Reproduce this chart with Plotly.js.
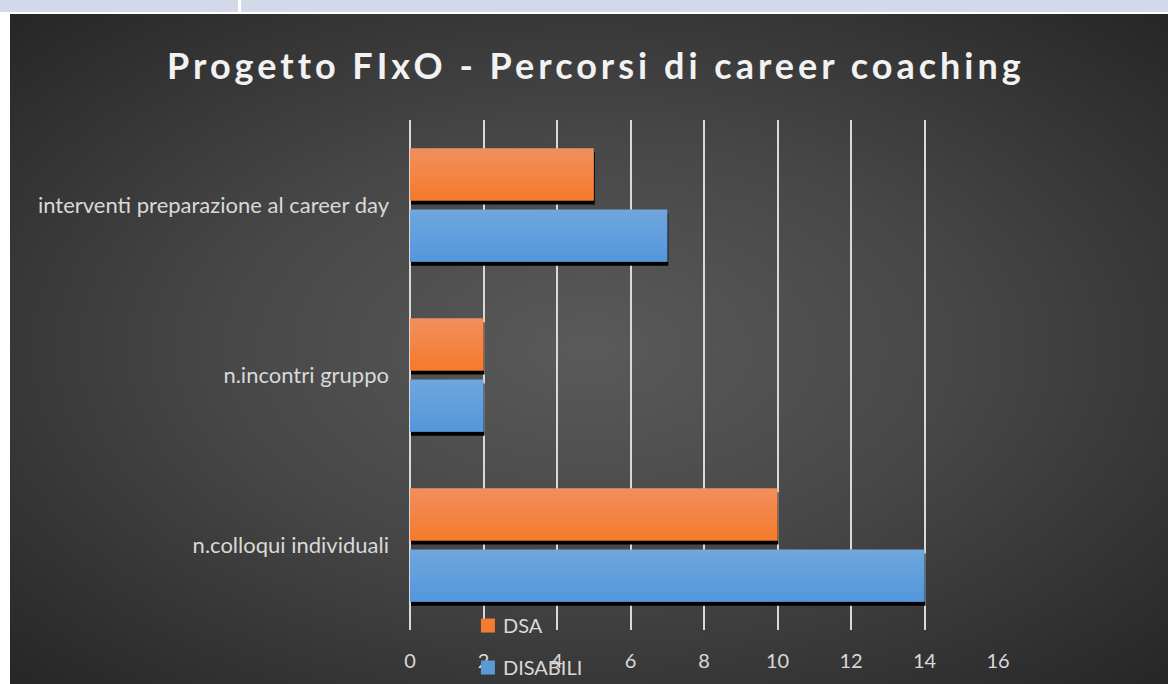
<!DOCTYPE html>
<html>
<head>
<meta charset="utf-8">
<script src="https://cdn.plot.ly/plotly-3.0.1.min.js"></script>
<style>
  html, body { margin:0; padding:0; width:1168px; height:684px; overflow:hidden; background:#ffffff; }
  #strip1 { position:absolute; left:0; top:0; width:238px; height:12px; background:#d3d9e8; }
  #strip2 { position:absolute; left:241px; top:0; width:927px; height:12px; background:#d3d9e8; }
  #chart { position:absolute; left:10px; top:14px; width:1158px; height:670px;
    background: radial-gradient(ellipse farthest-corner at 50% 50%, #5a5a5a 0%, #474747 45%, #262626 100%); }
  #chart .gtitle { letter-spacing: 4px; }
</style>
</head>
<body>
<div id="strip1"></div>
<div id="strip2"></div>
<div id="chart"></div>
<script>
const categories = ["n.colloqui individuali", "n.incontri gruppo", "interventi preparazione al career day"];
const disabili = [14, 2, 7];
const dsa = [10, 2, 5];
const xTicks = [0, 2, 4, 6, 8, 10, 12, 14, 16];

const font = "Lato, 'Open Sans', 'Noto Sans', sans-serif";

const traces = [
  { type: "bar", orientation: "h", name: "DISABILI", y: categories, x: disabili,
    marker: { color: "#5b9bd5", line: { width: 0 } }, legendrank: 2, legendgroup: "g2", hoverinfo: "x" },
  { type: "bar", orientation: "h", name: "DSA", y: categories, x: dsa,
    marker: { color: "#f47c30", line: { width: 0 } }, legendrank: 1, legendgroup: "g1", hoverinfo: "x" }
];

const layout = {
  width: 1158, height: 670,
  paper_bgcolor: "rgba(0,0,0,0)",
  plot_bgcolor: "rgba(0,0,0,0)",
  margin: { l: 400, r: 170, t: 106, b: 54, autoexpand: false },
  barmode: "group",
  bargap: 0.28,
  bargroupgap: 0.148,
  title: { text: "Progetto FIxO - Percorsi di career coaching",
    font: { family: font, size: 36, color: "#f2f2f2", weight: 700 },
    x: 0.506, xanchor: "center", y: 0.922, yanchor: "middle" },
  xaxis: { range: [0, 16], tickvals: xTicks, ticktext: xTicks.map(String),
    showgrid: true, gridcolor: "#d9d9d9", gridwidth: 2,
    zeroline: true, zerolinecolor: "#d9d9d9", zerolinewidth: 2,
    showline: false, ticks: "", ticklabelstandoff: 17,
    tickfont: { family: font, size: 20, color: "#d9d9d9" }, fixedrange: true },
  yaxis: { type: "category", categoryorder: "array", categoryarray: categories,
    showgrid: false, zeroline: false, showline: false, ticks: "", ticklabelstandoff: 20,
    tickfont: { family: font, size: 22, color: "#d9d9d9" }, fixedrange: true },
  showlegend: true,
  legend: { x: 0.09, xanchor: "left", y: 0.047, yanchor: "top",
    traceorder: "grouped", tracegroupgap: 13,
    font: { family: font, size: 20, color: "#d9d9d9" },
    bgcolor: "rgba(0,0,0,0)", itemwidth: 30 }
};

Plotly.newPlot("chart", traces, layout, { displayModeBar: false, staticPlot: true }).then(function (gd) {
  const svg = gd.querySelector(".main-svg");
  const ns = "http://www.w3.org/2000/svg";
  let defs = svg.querySelector("defs");
  if (!defs) { defs = document.createElementNS(ns, "defs"); svg.insertBefore(defs, svg.firstChild); }
  function grad(id, c1, c2) {
    const g = document.createElementNS(ns, "linearGradient");
    g.setAttribute("id", id); g.setAttribute("x1", "0"); g.setAttribute("y1", "0");
    g.setAttribute("x2", "0"); g.setAttribute("y2", "1");
    [[0, c1], [1, c2]].forEach(function (s) {
      const st = document.createElementNS(ns, "stop");
      st.setAttribute("offset", s[0]); st.setAttribute("stop-color", s[1]);
      g.appendChild(st);
    });
    defs.appendChild(g);
  }
  grad("gBlue", "#70a6dd", "#5397db");
  grad("gOrange", "#f18f5e", "#f57a2b");
  const f = document.createElementNS(ns, "filter");
  f.setAttribute("id", "barShadow");
  f.setAttribute("x", "-5%"); f.setAttribute("y", "-5%");
  f.setAttribute("width", "115%"); f.setAttribute("height", "130%");
  const ds = document.createElementNS(ns, "feDropShadow");
  ds.setAttribute("dx", "1"); ds.setAttribute("dy", "4");
  ds.setAttribute("stdDeviation", "0"); ds.setAttribute("flood-color", "#000");
  ds.setAttribute("flood-opacity", "1");
  f.appendChild(ds); defs.appendChild(f);
  const groups = gd.querySelectorAll(".barlayer .trace.bars");
  const fills = ["url(#gBlue)", "url(#gOrange)"];
  groups.forEach(function (g, i) {
    g.querySelectorAll("path").forEach(function (p) {
      p.style.fill = fills[i];
      p.setAttribute("filter", "url(#barShadow)");
    });
  });
  gd.querySelectorAll(".legend .legendpoints path").forEach(function (p) {
    p.setAttribute("d", "M-2,-7H12V7H-2Z");
  });
});
</script>
</body>
</html>
